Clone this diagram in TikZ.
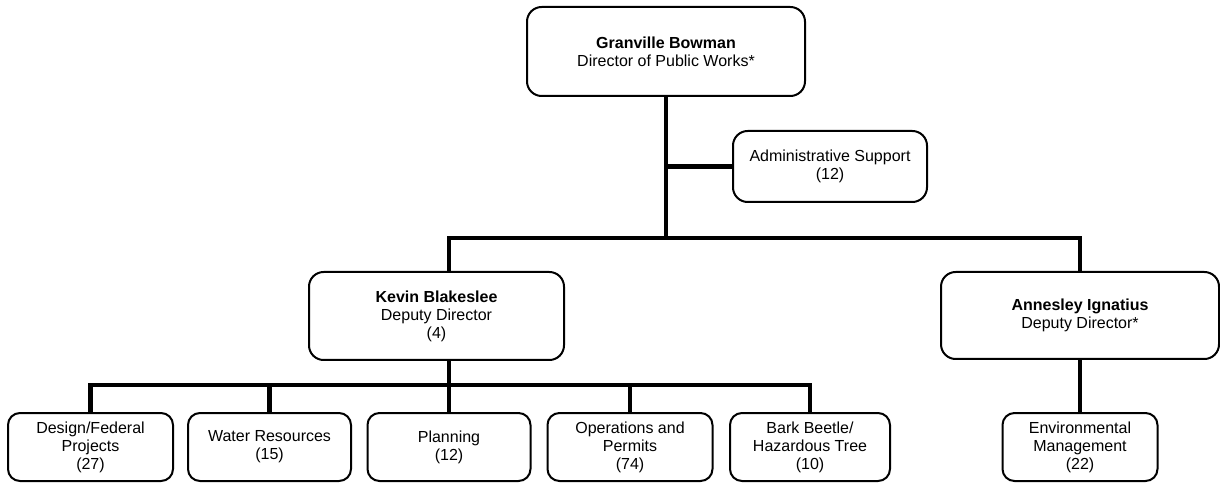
\documentclass[tikz,border=0pt]{standalone}
\usepackage{fontspec}
\setmainfont{Liberation Sans}
\begin{document}
\begin{tikzpicture}[x=0.75pt,y=-0.75pt,
  box/.style={draw, line width=1.5pt, rounded corners=11pt, align=center,
    font=\fontsize{12}{13.5}\selectfont, inner sep=0pt},
  small/.style={box, rounded corners=9pt, minimum height=51pt},
  conn/.style={line width=3.4pt, line join=miter}]
\useasboundingbox (0,0) rectangle (1220,484);

\node[box, minimum width=208.5pt, minimum height=66.75pt] (gb) at (666,51.5)
  {\textbf{Granville Bowman}\\Director of Public Works*};
\node[box, minimum width=145.5pt, minimum height=53.25pt] (admin) at (830,166.5)
  {Administrative Support\\(12)};
\node[box, minimum width=191.25pt, minimum height=66pt] (kb) at (436.5,316)
  {\textbf{Kevin Blakeslee}\\Deputy Director\\(4)};
\node[box, minimum width=208.5pt, minimum height=65.25pt] (ai) at (1080,315.5)
  {\textbf{Annesley Ignatius}\\Deputy Director*};

\node[small, minimum width=123.75pt] (d1) at (90.5,447) {Design/Federal\\Projects\\(27)};
\node[small, minimum width=122.25pt] (d2) at (269.5,447) {Water Resources\\(15)};
\node[small, minimum width=122.25pt] (d3) at (449,447) {Planning\\(12)};
\node[small, minimum width=123.75pt] (d4) at (630,447) {Operations and\\Permits\\(74)};
\node[small, minimum width=120pt] (d5) at (810,447) {Bark Beetle/\\Hazardous Tree\\(10)};
\node[small, minimum width=116.25pt] (env) at (1080,447) {Environmental\\Management\\(22)};

\coordinate (busL) at (449,238);
\coordinate (busR) at (1080,238);
\coordinate (kbus) at (449,385);

\draw[conn] (gb.south) -- (gb.south |- busL);
\draw[conn] (gb.south |- admin.west) -- (admin.west);
\draw[conn] (kb.north -| busL) -- (busL) -- (busR) -- (ai.north);
\draw[conn] (ai.south) -- (env.north);
\draw[conn] (kb.south -| kbus) -- (d3.north);
\draw[conn] (d1.north) -- (d1.north |- kbus) -- (d5.north |- kbus) -- (d5.north);
\draw[conn] (d2.north) -- (d2.north |- kbus);
\draw[conn] (d4.north) -- (d4.north |- kbus);
\end{tikzpicture}
\end{document}
